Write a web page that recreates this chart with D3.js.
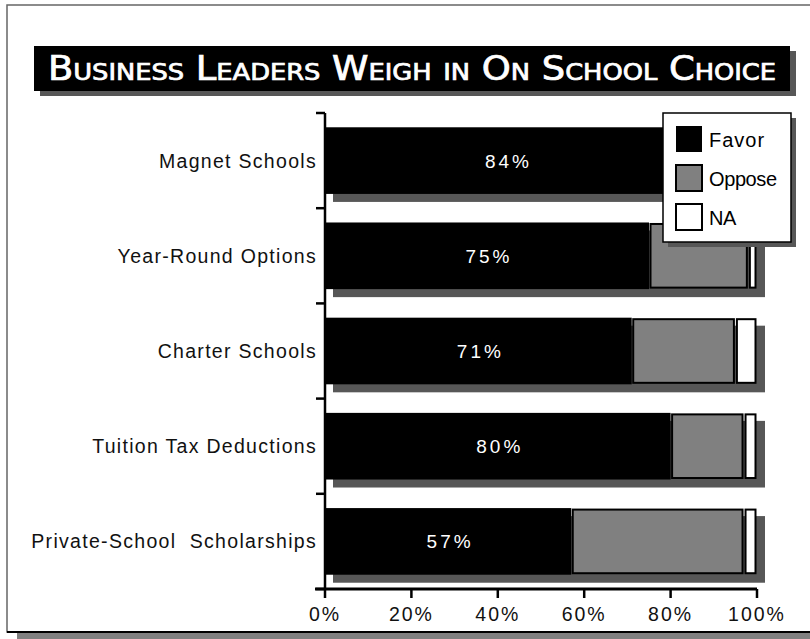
<!DOCTYPE html>
<html>
<head>
<meta charset="utf-8">
<script src="https://cdn.jsdelivr.net/npm/d3@7"></script>
<style>
  body { margin: 0; background: #fff; }
  svg text { font-family: "Liberation Sans", Arial, sans-serif; }
</style>
</head>
<body>
<div id="chart"></div>
<script>
/* DATA */
const categories = ["Magnet Schools", "Year-Round Options", "Charter Schools", "Tuition Tax Deductions", "Private-School  Scholarships"];
const favor = [84, 75, 71, 80, 57];
const oppose = [13, 23, 24, 17, 40];
const na = [3, 2, 5, 3, 3];
const seriesNames = ["Favor", "Oppose", "NA"];
const xTicks = [0, 20, 40, 60, 80, 100];
const titleText = "Business Leaders Weigh in On School Choice";

/* CONSTANTS */
const width = 810, height = 639;
const margin = { top: 113, bottom: 50, left: 325, right: 53 };
const fills = { Favor: "#000", Oppose: "#808080", NA: "#fff" };
const shadow = "#575757";

const svg = d3.select("#chart").append("svg")
  .attr("width", width)
  .attr("height", height);

// frame with drop shadow
svg.append("rect").attr("x", 17).attr("y", 633).attr("width", 800).attr("height", 6).attr("fill", "#808080");
svg.append("rect").attr("x", 7).attr("y", 5).attr("width", 820).attr("height", 627)
  .attr("fill", "#fff").attr("stroke", "#666").attr("stroke-width", 1.5);
svg.append("line").attr("x1", 7).attr("x2", 815).attr("y1", 632).attr("y2", 632).attr("stroke", "#000").attr("stroke-width", 2);

// title banner
svg.append("rect").attr("x", 40).attr("y", 51).attr("width", 756).attr("height", 45).attr("fill", shadow);
svg.append("rect").attr("x", 34).attr("y", 46).attr("width", 756).attr("height", 45).attr("fill", "#000");
svg.append("text")
  .attr("x", 412).attr("y", 80)
  .attr("text-anchor", "middle")
  .attr("fill", "#fff")
  .attr("stroke", "#fff")
  .attr("stroke-width", 0.7)
  .attr("font-size", 33)
  .style("font-family", "'DejaVu Sans Condensed', 'DejaVu Sans', sans-serif")
  .style("font-variant", "small-caps")
  .attr("textLength", 728)
  .attr("lengthAdjust", "spacingAndGlyphs")
  .text(titleText);

/* SCALES */
const xScale = d3.scaleLinear().domain([0, 100]).range([margin.left, width - margin.right]);
const yScale = d3.scaleBand().domain(categories).range([margin.top, height - margin.bottom]).paddingInner(0.3).paddingOuter(0.15);

const rows = categories.map((c, i) => ({ cat: c, Favor: favor[i], Oppose: oppose[i], NA: na[i] }));
const stacked = d3.stack().keys(seriesNames)(rows);

// bar shadows
svg.append("g").selectAll("rect")
  .data(rows)
  .join("rect")
  .attr("x", xScale(0) + 8)
  .attr("y", d => yScale(d.cat) + 8)
  .attr("width", xScale(100) - xScale(0))
  .attr("height", yScale.bandwidth())
  .attr("fill", shadow);

// stacked segments
svg.append("g").selectAll("g")
  .data(stacked)
  .join("g")
  .selectAll("rect")
  .data(s => s.map(d => ({ key: s.key, d })))
  .join("rect")
  .attr("x", p => xScale(p.d[0]) + (p.key === "Favor" ? 0 : 1.5))
  .attr("y", p => yScale(p.d.data.cat) + (p.key === "Favor" ? 0 : 1.5))
  .attr("width", p => xScale(p.d[1]) - xScale(p.d[0]) - (p.key === "Favor" ? 0 : 3))
  .attr("height", p => yScale.bandwidth() - (p.key === "Favor" ? 0 : 3))
  .attr("fill", p => fills[p.key])
  .attr("stroke", p => p.key === "Favor" ? "none" : "#000")
  .attr("stroke-width", 2);

// percent labels
svg.append("g").selectAll("text")
  .data(rows)
  .join("text")
  .attr("x", d => xScale(d.Favor / 2) + 2)
  .attr("y", d => yScale(d.cat) + yScale.bandwidth() / 2 + 7)
  .attr("text-anchor", "middle")
  .attr("fill", "#fff")
  .attr("font-size", 19)
  .attr("letter-spacing", 3)
  .text(d => d.Favor + "%");

/* AXES */
const yAxis = svg.append("g").attr("transform", `translate(${margin.left},0)`);
yAxis.append("line").attr("x1", 0).attr("x2", 0).attr("y1", margin.top).attr("y2", height - margin.bottom)
  .attr("stroke", "#000").attr("stroke-width", 2.5);
yAxis.selectAll(".tk")
  .data(d3.range(categories.length + 1))
  .join("line")
  .attr("x1", -9).attr("x2", 0)
  .attr("y1", i => margin.top + i * (height - margin.bottom - margin.top) / categories.length)
  .attr("y2", i => margin.top + i * (height - margin.bottom - margin.top) / categories.length)
  .attr("stroke", "#000").attr("stroke-width", 2.5);
yAxis.selectAll(".lbl")
  .data(categories)
  .join("text")
  .attr("x", -8)
  .attr("y", d => yScale(d) + yScale.bandwidth() / 2 + 7)
  .attr("text-anchor", "end")
  .attr("font-size", 19.5)
  .attr("letter-spacing", 1.3)
  .style("white-space", "pre")
  .attr("fill", "#111")
  .text(d => d);

const xAxis = svg.append("g").attr("transform", `translate(0,${height - margin.bottom})`);
xAxis.append("line").attr("x1", margin.left - 10).attr("x2", xScale(100)).attr("stroke", "#000").attr("stroke-width", 3);
xAxis.selectAll(".tk")
  .data(xTicks)
  .join("line")
  .attr("x1", d => xScale(d)).attr("x2", d => xScale(d))
  .attr("y1", 0).attr("y2", 9)
  .attr("stroke", "#000").attr("stroke-width", 2.5);
xAxis.selectAll(".lbl")
  .data(xTicks)
  .join("text")
  .attr("x", d => xScale(d))
  .attr("y", 32)
  .attr("text-anchor", "middle")
  .attr("font-size", 19.5)
  .attr("letter-spacing", 2)
  .attr("fill", "#111")
  .text(d => d + "%");

/* LEGEND */
const lg = svg.append("g").attr("transform", "translate(663,113)");
lg.append("rect").attr("x", 5).attr("y", 5).attr("width", 128).attr("height", 129).attr("fill", shadow);
lg.append("rect").attr("width", 128).attr("height", 129).attr("fill", "#fff").attr("stroke", "#000").attr("stroke-width", 1.5);
const items = lg.selectAll(".item")
  .data(seriesNames)
  .join("g")
  .attr("transform", (d, i) => `translate(13,${13 + i * 39})`);
items.append("rect")
  .attr("width", 26).attr("height", 26)
  .attr("fill", d => fills[d])
  .attr("stroke", "#000").attr("stroke-width", d => d === "Favor" ? 0 : 2);
items.append("text")
  .attr("x", 33).attr("y", 21)
  .attr("font-size", 20)
  .attr("letter-spacing", d => d === "Favor" ? 1 : -0.4)
  .text(d => d);
</script>
</body>
</html>
